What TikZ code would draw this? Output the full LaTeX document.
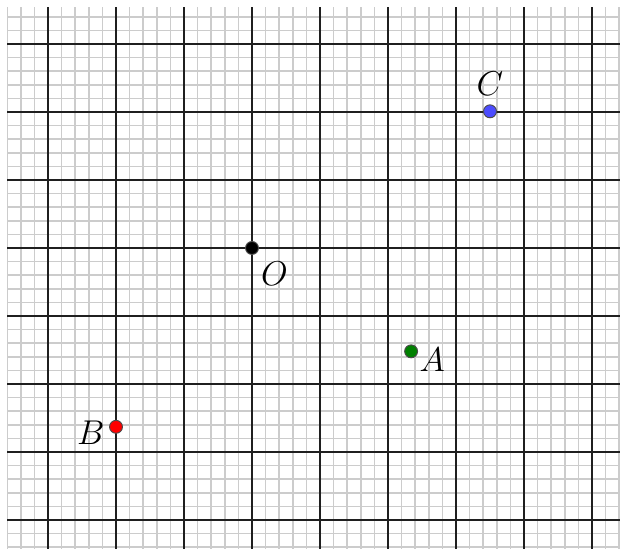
\documentclass[tikz,border=0pt]{standalone}
\begin{document}
\begin{tikzpicture}[x=1cm,y=1cm,
  minorline/.style={draw=black!20,line width=0.7pt},
  majorline/.style={draw=black!88,line width=1pt},
  ptdot/.style={circle,draw=black!70,line width=0.4pt,minimum size=0.19cm,inner sep=0pt},
  ptlabel/.style={font=\Large}]
\useasboundingbox (-3.706,-4.426) rectangle (5.456,3.647);
\begin{scope}
\clip (-3.6,-4.43) rectangle (5.41,3.54);
\draw[minorline,step=0.2] (-3.8,-4.6) grid (5.6,3.8);
\draw[majorline,step=1] (-3.8,-4.6) grid (5.6,3.8);
\end{scope}
\node[ptdot,fill=black] (O) at (0,0) {};
\node[ptdot,fill=green!50!black] (A) at (2.34,-1.52) {};
\node[ptdot,fill=red] (B) at (-2,-2.63) {};
\node[ptdot,fill=blue!70!white] (C) at (3.5,2.01) {};
\node[ptlabel] (lO) at (0.33,-0.38) {$O$};
\node[ptlabel] (lA) at (2.65,-1.64) {$A$};
\node[ptlabel] (lB) at (-2.37,-2.71) {$B$};
\node[ptlabel] (lC) at (3.5,2.42) {$C$};
\end{tikzpicture}
\end{document}
